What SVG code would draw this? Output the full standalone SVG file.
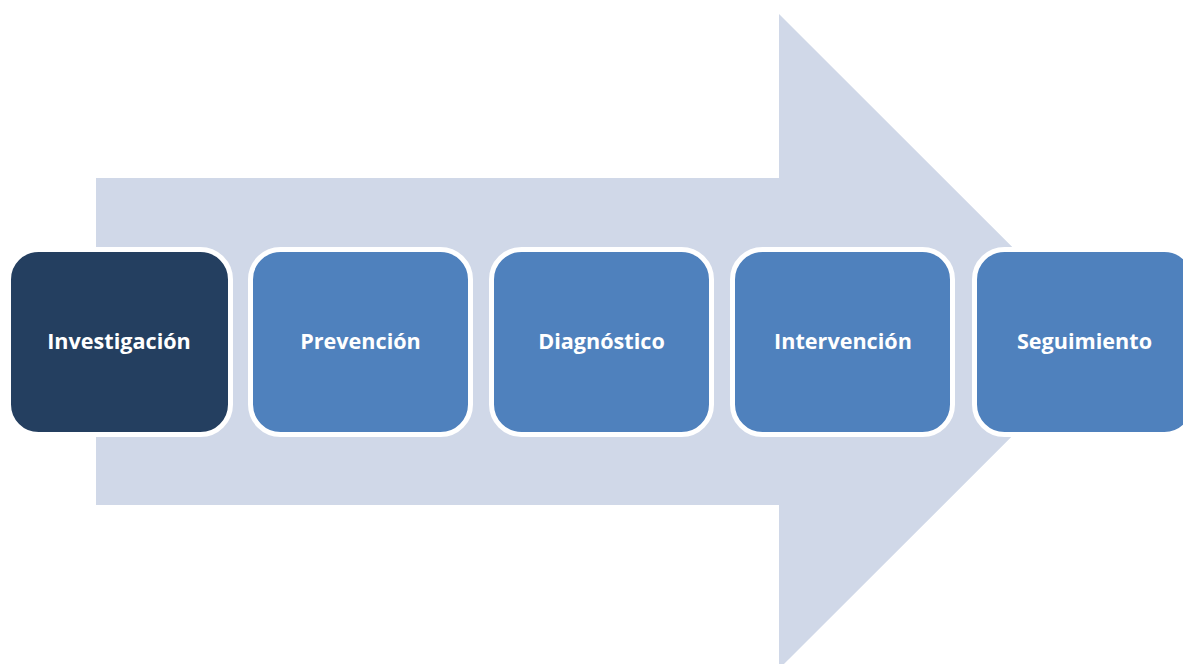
<svg xmlns="http://www.w3.org/2000/svg" width="1183" height="664" viewBox="0 0 1183 664">
<style>
.box{stroke:#ffffff;stroke-width:5}
.blue{fill:#4F81BD}
.dark{fill:#243F60}
.lbl{font-family:"Open Sans","Liberation Sans",sans-serif;font-weight:bold;font-size:21.6px;fill:#ffffff;text-anchor:middle}
</style>
<rect width="1183" height="664" fill="#ffffff"/>
<g id="arrow">
<polygon points="96,178 779,178 779,14 1107,341.5 779,669 779,505 96,505" fill="#D0D8E8"/>
</g>
<g id="connectors"></g>
<g id="n1"><rect class="box dark" x="8.5" y="249.5" width="222" height="185" rx="30"/><text class="lbl" x="119" y="348.5">Investigación</text></g>
<g id="n2"><rect class="box blue" x="250.5" y="249.5" width="220" height="185" rx="30"/><text class="lbl" x="360.5" y="348.5">Prevención</text></g>
<g id="n3"><rect class="box blue" x="491.5" y="249.5" width="220" height="185" rx="30"/><text class="lbl" x="601.5" y="348.5">Diagnóstico</text></g>
<g id="n4"><rect class="box blue" x="732.5" y="249.5" width="220" height="185" rx="30"/><text class="lbl" x="843" y="348.5">Intervención</text></g>
<g id="n5"><rect class="box blue" x="974.5" y="249.5" width="220" height="185" rx="30"/><text class="lbl" x="1084.5" y="348.5">Seguimiento</text></g>
</svg>
